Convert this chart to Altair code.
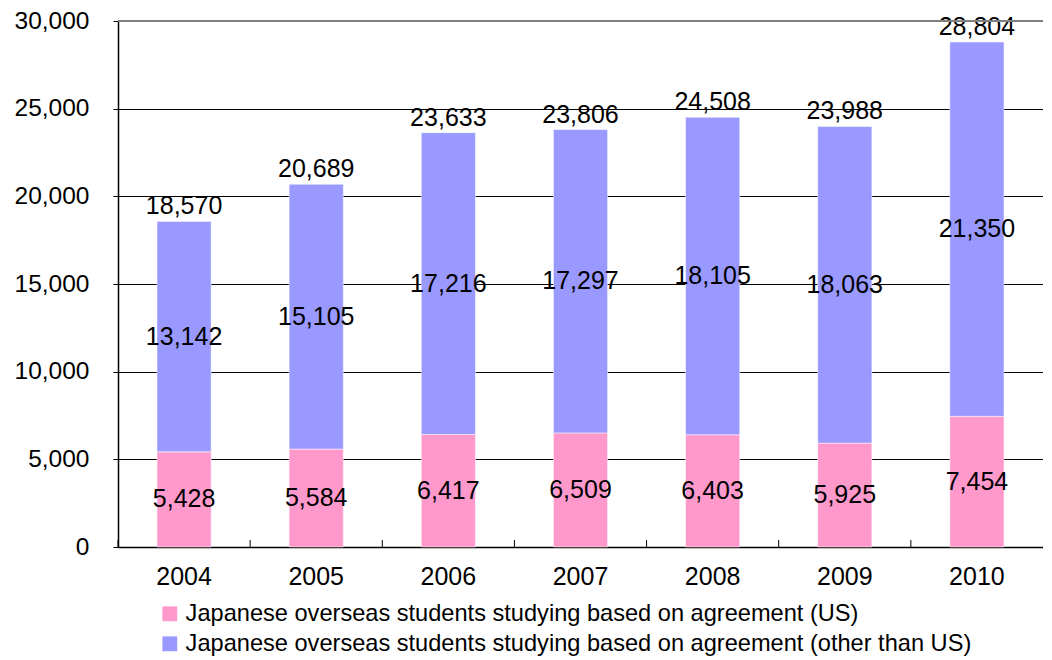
import altair as alt
import pandas as pd

years = ["2004", "2005", "2006", "2007", "2008", "2009", "2010"]
us = [5428, 5584, 6417, 6509, 6403, 5925, 7454]
other = [13142, 15105, 17216, 17297, 18105, 18063, 21350]
totals = [18570, 20689, 23633, 23806, 24508, 23988, 28804]
series_names = [
    "Japanese overseas students studying based on agreement (US)",
    "Japanese overseas students studying based on agreement (other than US)",
]
colors = ["#FF99CC", "#9999FF"]

rows = []
for i, y in enumerate(years):
    rows.append({"year": y, "series": series_names[0], "order": 0,
                 "start": 0, "end": us[i], "value": us[i]})
    rows.append({"year": y, "series": series_names[1], "order": 1,
                 "start": us[i], "end": us[i] + other[i], "value": other[i]})
df = pd.DataFrame(rows)
df["mid"] = (df["start"] + df["end"]) / 2
tot = pd.DataFrame({"year": years, "total": totals})

W, H = 925, 526
FONT = "Liberation Sans"
FS = 25
PI = 0.59

xscale = alt.Scale(paddingInner=PI, paddingOuter=PI / 2)
xenc = alt.X("year:N", sort=years, title=None, scale=xscale,
             axis=alt.Axis(labelFontSize=FS, labelFont=FONT, labelColor="black",
                           labelPadding=17, ticks=False, domainColor="black",
                           domainWidth=1.5, labelAngle=0))
yscale = alt.Scale(domain=[0, 30000], nice=False)

bars = alt.Chart(df).mark_bar(stroke="white", strokeWidth=0.5).encode(
    x=xenc,
    y=alt.Y("start:Q", scale=yscale, title=None,
            axis=alt.Axis(values=[0, 5000, 10000, 15000, 20000, 25000, 30000],
                          format=",.0f", labelFontSize=24.5, labelFont=FONT,
                          labelColor="black", labelPadding=24, tickSize=5,
                          tickColor="black", gridColor="black", gridWidth=1,
                          domainColor="black", domainWidth=1.5)),
    y2="end:Q",
    color=alt.Color("series:N", sort=series_names,
                    scale=alt.Scale(domain=series_names, range=colors),
                    legend=alt.Legend(title=None, orient="none", legendX=40,
                                      legendY=581, symbolType="square",
                                      symbolSize=220, symbolStrokeWidth=0,
                                      labelFontSize=23.6, labelFont=FONT,
                                      labelColor="black", rowPadding=5,
                                      labelLimit=1000)),
    order="order:Q",
)

mid_labels = alt.Chart(df).mark_text(fontSize=FS, font=FONT, color="black",
                                     baseline="middle").encode(
    x=alt.X("year:N", sort=years, scale=xscale, axis=None),
    y=alt.Y("mid:Q", scale=yscale),
    text=alt.Text("value:Q", format=",.0f"),
)

top_labels = alt.Chart(tot).mark_text(fontSize=FS, font=FONT, color="black",
                                      baseline="alphabetic", dy=-7).encode(
    x=alt.X("year:N", sort=years, scale=xscale, axis=None),
    y=alt.Y("total:Q", scale=yscale),
    text=alt.Text("total:Q", format=",.0f"),
)

ticks = alt.Chart(tot).mark_rule(color="black", strokeWidth=1).encode(
    x=alt.X("year:N", sort=years, bandPosition=0, axis=None,
            scale=alt.Scale(paddingInner=0, paddingOuter=0)),
    y=alt.value(H),
    y2=alt.value(H - 7),
)

top_line = alt.Chart(pd.DataFrame({"v": [30000]})).mark_rule(
    color="#808080", strokeWidth=2).encode(y=alt.Y("v:Q", scale=yscale))

chart = alt.layer(bars, mid_labels, top_labels, top_line, ticks).resolve_scale(
    x="independent"
).properties(
    width=W, height=H,
    autosize=alt.AutoSizeParams(type="none"),
    padding={"left": 110, "top": 13, "right": 0, "bottom": 110},
).configure_view(stroke=None).configure_axis(grid=True).configure_axisX(grid=False)

chart.save("out.html", embed_options={"renderer": "svg", "actions": False})
